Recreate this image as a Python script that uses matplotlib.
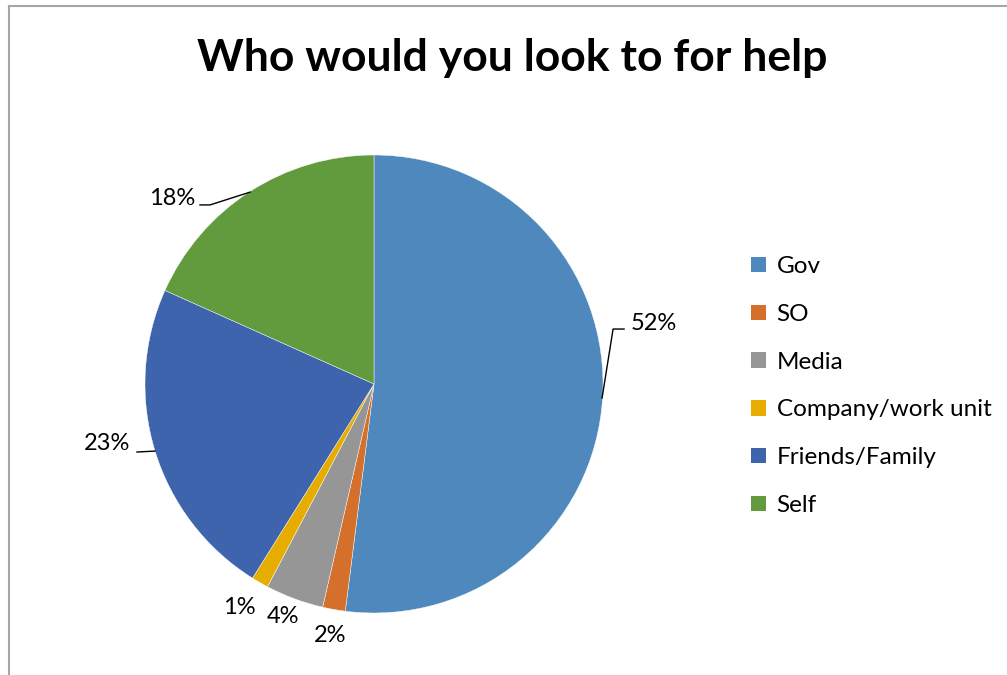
import matplotlib
matplotlib.use("Agg")
import matplotlib.pyplot as plt
from matplotlib.patches import Rectangle
import numpy as np

categories = ["Gov", "SO", "Media", "Company/work unit", "Friends/Family", "Self"]
values = [52.0, 1.6, 4.1, 1.2, 22.8, 18.3]
label_texts = ["52%", "2%", "4%", "1%", "23%", "18%"]
colors = ["#4F88BC", "#D4702B", "#969696", "#E6AC00", "#3D64AC", "#629A3E"]

# label positions in pie units (radius = 1)
label_pos = [(1.223, 0.266), (-0.192, -1.100), (-0.397, -1.017),
             (-0.590, -0.978), (-1.166, -0.262), (-0.882, 0.812)]
leaders = {
    0: [(0.996, -0.061), (1.044, 0.240), (1.092, 0.240)],
    4: [(-0.956, -0.293), (-1.035, -0.297)],
    5: [(-0.541, 0.838), (-0.716, 0.782), (-0.760, 0.782)],
}

FONT = "Lato"
W, H = 1007, 675
fig = plt.figure(figsize=(W / 100, H / 100), dpi=100)
fig.patch.set_facecolor("white")

# border (top, left)
fig.add_artist(plt.Line2D([9 / W, 9 / W], [0, 1 - 6 / H], color="#A6A6A6", lw=1.5, transform=fig.transFigure))
fig.add_artist(plt.Line2D([9 / W, 1], [1 - 6 / H, 1 - 6 / H], color="#A6A6A6", lw=1.5, transform=fig.transFigure))

cx, cy, r = 374, 384, 229
ax = fig.add_axes([(cx - r) / W, (H - cy - r) / H, 2 * r / W, 2 * r / H])
wedges, _ = ax.pie(values, colors=colors, startangle=90, counterclock=False, radius=1,
                   wedgeprops=dict(edgecolor="white", linewidth=0.3))
ax.set_xlim(-1, 1)
ax.set_ylim(-1, 1)
ax.set_aspect("equal")
ax.axis("off")

for i, (t, (x, y)) in enumerate(zip(label_texts, label_pos)):
    ax.text(x, y, t, ha="center", va="center", fontsize=17, family=FONT, color="black", clip_on=False)
for i, pts in leaders.items():
    xs, ys = zip(*pts)
    ax.plot(xs, ys, color="black", lw=1, clip_on=False)

fig.text(512 / W, 1 - 58 / H, "Who would you look to for help", ha="center", va="center",
         fontsize=32, fontweight="bold", family=FONT)

handles = [Rectangle((0, 0), 1, 1, facecolor=c, edgecolor="none") for c in colors]
leg = fig.legend(handles, categories, loc="center left", bbox_to_anchor=(751 / W, 1 - 386 / H),
                 frameon=False, prop={"family": FONT, "size": 17.5}, handlelength=0.6, handleheight=0.6,
                 handletextpad=0.45, labelspacing=1.1, borderaxespad=0, borderpad=0)

fig.savefig("out.png", dpi=100)
